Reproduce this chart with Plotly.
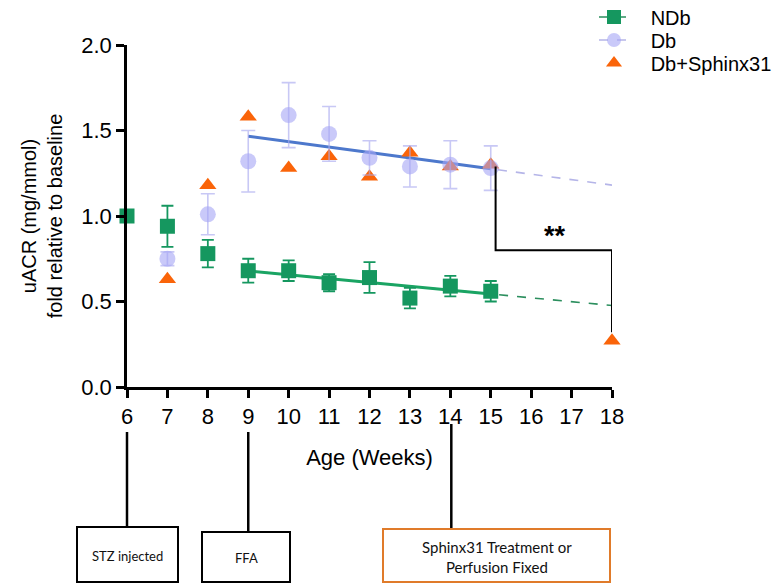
import numpy as np
import plotly.graph_objects as go

# ---- data ----
weeks = [6, 7, 8, 9, 10, 11, 12, 13, 14, 15]
ndb = [1.00, 0.94, 0.78, 0.68, 0.68, 0.61, 0.64, 0.52, 0.59, 0.56]
ndb_err = [0.0, 0.12, 0.08, 0.07, 0.06, 0.05, 0.09, 0.06, 0.06, 0.06]
db = [1.00, 0.75, 1.01, 1.32, 1.59, 1.48, 1.34, 1.29, 1.30, 1.28]
db_err = [0.0, 0.04, 0.12, 0.18, 0.19, 0.16, 0.10, 0.12, 0.14, 0.13]
sph_weeks = [7, 8, 9, 10, 11, 12, 13, 14, 15, 18]
sph = [0.63, 1.18, 1.58, 1.28, 1.35, 1.23, 1.37, 1.29, 1.30, 0.27]
fit_start, fit_end, fit_extend = 9, 15, 18
x_ticks = list(range(6, 19))
y_ticks = [0.0, 0.5, 1.0, 1.5, 2.0]
series_names = ["NDb", "Db", "Db+Sphinx31"]
timeline_weeks = [6, 9, 14]
timeline_labels = ["STZ injected", "FFA", "Sphinx31 Treatment or<br>Perfusion Fixed"]

GREEN = "#15975F"
GREEN_LINE = "#1AA463"
LAV = "rgba(165,165,245,0.6)"
LAV_ERR = "rgba(170,170,240,0.65)"
BLUE = "#4D78CC"
ORANGE = "#FA6409"
FONT = "Liberation Sans, Arial, sans-serif"
BOXFONT = "Lato, Open Sans, sans-serif"
PAD = "\u00a0\u00a0\u00a0"


def fit(xs, ys):
    xa = np.array(xs, float)
    ya = np.array(ys, float)
    m = (xa >= fit_start) & (xa <= fit_end)
    k, b = np.polyfit(xa[m], ya[m], 1)
    return k, b

fig = go.Figure()

for vals, solid, dashc in [(ndb, GREEN_LINE, "#2C8F5E"), (db, BLUE, "#B5B5E8")]:
    k, b = fit(weeks, vals)
    fig.add_trace(go.Scatter(x=[fit_start, fit_extend], y=[k * fit_start + b, k * fit_extend + b],
                             mode="lines", line=dict(color=dashc, width=1.6, dash="dash"),
                             showlegend=False, hoverinfo="skip"))
    fig.add_trace(go.Scatter(x=[fit_start, fit_end], y=[k * fit_start + b, k * fit_end + b],
                             mode="lines", line=dict(color=solid, width=3),
                             showlegend=False, hoverinfo="skip"))

# triangles
fig.add_trace(go.Scatter(x=sph_weeks, y=sph, mode="markers",
                         marker=dict(symbol="triangle-up", size=15, color=ORANGE),
                         showlegend=False, cliponaxis=False))
# Db circles
fig.add_trace(go.Scatter(x=weeks[1:], y=db[1:], mode="markers",
                         marker=dict(symbol="circle", size=16, color=LAV),
                         error_y=dict(type="data", array=db_err[1:], color=LAV_ERR, thickness=1.6, width=7),
                         showlegend=False, cliponaxis=False))
# NDb squares
fig.add_trace(go.Scatter(x=weeks, y=ndb, mode="markers",
                         marker=dict(symbol="square", size=15, color=GREEN),
                         error_y=dict(type="data", array=ndb_err, color=GREEN, thickness=1.8, width=6),
                         showlegend=False, cliponaxis=False))

# legend entries (one legend each, for exact row spacing)
fig.add_trace(go.Scatter(x=[None], y=[None], mode="lines+markers", name=PAD + series_names[0], legend="legend",
                         line=dict(color="#2C8F5E", width=1.5, dash="dash"),
                         marker=dict(symbol="square", size=14, color=GREEN)))
fig.add_trace(go.Scatter(x=[None], y=[None], mode="lines+markers", name=PAD + series_names[1], legend="legend2",
                         line=dict(color="#B5B5E8", width=1.5, dash="dash"),
                         marker=dict(symbol="circle", size=14, color=LAV)))
fig.add_trace(go.Scatter(x=[None], y=[None], mode="markers", name=PAD + series_names[2], legend="legend3",
                         marker=dict(symbol="triangle-up", size=14, color=ORANGE)))

shapes = []
# significance bracket
bx0 = fit_end + 0.12
shapes.append(dict(type="path", xref="x", yref="y",
                   path=f"M {bx0},{sph[-2] - 0.01} L {bx0},0.80 L {fit_extend},0.80 L {fit_extend},0.32",
                   line=dict(color="black", width=2)))

def px(w):
    return (w - 6) / 12.0

def py(p):
    return (387 - p) / 342.0

# timeline connectors and boxes
line_tops = [432, 432, 424]
box_tops = [527, 532, 529]
box_x = [(77, 178), (202, 290), (383, 610)]
box_colors = ["black", "black", "#E07B2A"]
box_fonts = [13, 13, 15]
for w, lt, bt, (x0, x1), col in zip(timeline_weeks, line_tops, box_tops, box_x, box_colors):
    xw = px(w) + (0.002 if w == 14 else 0)
    shapes.append(dict(type="line", xref="paper", yref="paper", x0=xw, x1=xw, y0=py(lt), y1=py(bt),
                       line=dict(color="black", width=2.5)))
    shapes.append(dict(type="rect", xref="paper", yref="paper",
                       x0=(x0 - 127) / 485, x1=(x1 - 127) / 485, y0=py(bt), y1=py(582),
                       line=dict(color=col, width=2), fillcolor="white"))

annotations = [dict(x=16.6, y=0.885, xref="x", yref="y", text="<b>**</b>", showarrow=False,
                    font=dict(size=27, color="black", family=FONT))]
for bt, (x0, x1), lab, fs in zip(box_tops, box_x, timeline_labels, box_fonts):
    annotations.append(dict(x=((x0 + x1) / 2 - 127) / 485, y=py((bt + 582) / 2 + 1), xref="paper", yref="paper",
                            xanchor="center", yanchor="middle",
                            text=lab, showarrow=False, font=dict(size=fs, color="#111", family=BOXFONT)))

legend_common = dict(xref="container", yref="container", xanchor="left", yanchor="middle",
                     font=dict(size=20, family=FONT), bgcolor="rgba(0,0,0,0)", itemwidth=30,
                     x=594 / 782)
fig.update_layout(
    width=782, height=583,
    margin=dict(l=127, r=170, t=45, b=196, autoexpand=False),
    plot_bgcolor="white", paper_bgcolor="white",
    font=dict(family=FONT, color="black"),
    shapes=shapes, annotations=annotations,
    legend=dict(legend_common, y=1 - 17 / 583),
    legend2=dict(legend_common, y=1 - 40 / 583),
    legend3=dict(legend_common, y=1 - 63 / 583),
    xaxis=dict(range=[6, 18], tickvals=x_ticks, ticktext=[str(t) for t in x_ticks],
               showgrid=False, zeroline=False, showline=True, linecolor="black", linewidth=2.5,
               ticks="outside", ticklen=8, tickwidth=2.5, tickcolor="black", tickangle=0,
               tickfont=dict(size=22, family=FONT), automargin=False,
               title=dict(text="Age (Weeks)", font=dict(size=22, family=FONT), standoff=22)),
    yaxis=dict(range=[0, 2.0], tickvals=y_ticks, ticktext=[f"{v:.1f}" for v in y_ticks],
               showgrid=False, zeroline=False, showline=True, linecolor="black", linewidth=2.5,
               ticks="outside", ticklen=8, tickwidth=2.5, tickcolor="black", automargin=False,
               tickfont=dict(size=22, family=FONT),
               title=dict(text="uACR (mg/mmol)<br>fold relative to baseline", font=dict(size=20, family=FONT), standoff=14)),
)

fig.write_html("out.html")
